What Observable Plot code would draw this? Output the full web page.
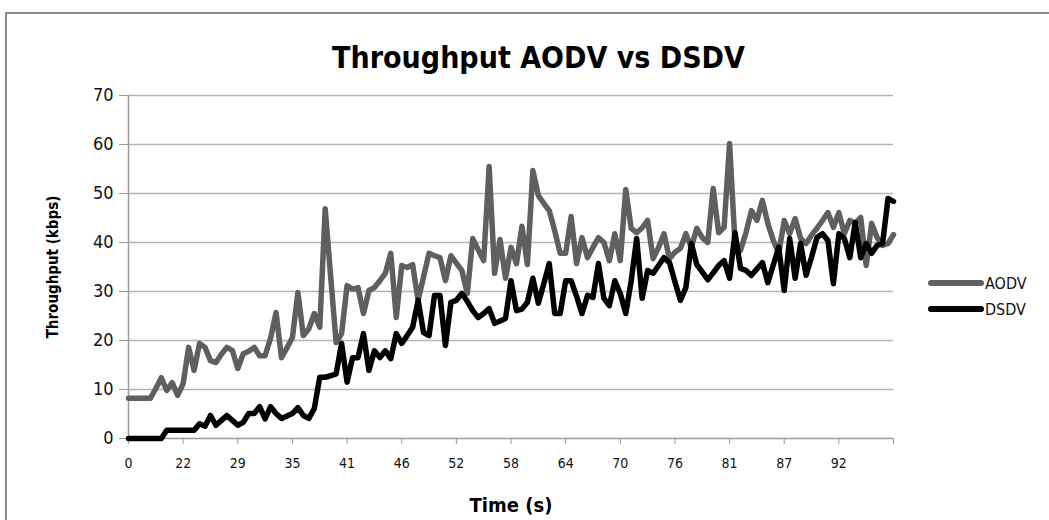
<!DOCTYPE html>
<html>
<head>
<meta charset="utf-8">
<script src="https://cdn.jsdelivr.net/npm/d3@7"></script>
<script src="https://cdn.jsdelivr.net/npm/@observablehq/plot@0.6"></script>
<style>
  html, body { margin: 0; padding: 0; background: #fff; }
  #wrap { position: relative; width: 1049px; height: 520px; overflow: hidden; background: #fff;
          font-family: "Liberation Sans Narrow", "DejaVu Sans Condensed", Roboto, sans-serif; }
  #frame { position: absolute; left: 5px; top: 12px; width: 1100px; height: 600px;
           border-left: 2px solid #8c8c8c; border-top: 2px solid #8c8c8c; }
  #title { position: absolute; top: 0; width: 1049px; height: 80px; text-align: center;
           font-weight: bold; font-size: 30px; line-height: 30px; padding-top: 43px; box-sizing: border-box;
           left: 14px; color: #000; }
  #chart { position: absolute; left: 0; top: 80px; }
  #legend { position: absolute; left: 928px; top: 270px; font-size: 16px; color: #111; }
  .item { display: flex; align-items: center; height: 26px; }
  .swatch { width: 56px; height: 6px; border-radius: 3px; margin-right: 1px; }
</style>
</head>
<body>
<div id="wrap">
  <div id="frame"></div>
  <div id="title">Throughput AODV vs DSDV</div>
  <div id="chart"></div>
  <div id="legend"></div>
</div>
<script>
// Tick labels shown every 10 samples along the category axis
const timeLabels = ["0","22","29","35","41","46","52","58","64","70","76","81","87","92",""];
const seriesNames = ["AODV", "DSDV"];
const seriesColors = ["#5f5f5f", "#000000"];

// Throughput (kbps) per sample
const aodv = [
  8.2, 8.2, 8.2, 8.2, 8.2, 10.2, 12.4, 9.8, 11.4, 8.8,
  11.2, 18.6, 13.9, 19.4, 18.6, 15.9, 15.5, 17.2, 18.6, 18.0,
  14.3, 17.3, 17.8, 18.6, 16.9, 16.9, 20.5, 25.7, 16.5, 18.5,
  20.6, 29.8, 21.0, 22.4, 25.5, 22.7, 46.9, 33.0, 19.6, 21.4,
  31.2, 30.5, 30.8, 25.5, 30.2, 30.8, 32.2, 33.7, 37.8, 24.7,
  35.3, 34.9, 35.5, 28.2, 33.0, 37.8, 37.3, 36.9, 32.2, 37.3,
  35.8, 34.3, 29.6, 40.8, 38.5, 36.3, 55.5, 33.7, 40.6, 32.7,
  39.0, 35.7, 43.3, 35.5, 54.7, 49.6, 48.0, 46.5, 42.4, 37.8,
  37.8, 45.3, 35.7, 41.0, 36.9, 39.0, 41.0, 40.0, 36.3, 41.8,
  36.3, 50.8, 42.9, 42.0, 43.0, 44.5, 36.7, 39.0, 41.8, 36.7,
  38.0, 38.8, 41.8, 39.0, 42.9, 41.0, 40.0, 51.0, 42.0, 43.1,
  60.2, 39.8, 38.4, 42.0, 46.5, 44.5, 48.6, 43.9, 40.4, 37.8,
  44.5, 41.8, 44.9, 40.8, 39.8, 41.5, 42.9, 44.5, 46.1, 43.1,
  46.1, 41.8, 44.5, 43.9, 45.1, 35.3, 43.9, 41.0, 39.4, 39.8,
  41.6
];
const dsdv = [
  0, 0, 0, 0, 0, 0, 0, 1.7, 1.7, 1.7,
  1.7, 1.7, 1.7, 3.0, 2.5, 4.7, 2.7, 3.7, 4.7, 3.7,
  2.7, 3.3, 5.1, 5.1, 6.5, 4.0, 6.5, 5.1, 4.1, 4.6,
  5.1, 6.3, 4.7, 4.1, 6.1, 12.5, 12.5, 12.8, 13.2, 19.4,
  11.5, 16.5, 16.5, 21.4, 13.9, 17.9, 16.5, 17.9, 16.3, 21.4,
  19.4, 21.0, 22.7, 28.2, 21.6, 21.0, 29.2, 29.2, 19.0, 27.8,
  28.2, 29.6, 28.0, 26.1, 24.7, 25.5, 26.5, 23.5, 24.0, 24.5,
  32.2, 26.1, 26.4, 27.8, 32.7, 27.6, 31.6, 35.7, 25.5, 25.5,
  32.2, 32.2, 29.0, 25.5, 29.2, 28.8, 35.7, 28.6, 27.1, 32.2,
  29.6, 25.5, 32.2, 40.8, 28.6, 34.3, 33.7, 35.3, 36.9, 35.9,
  32.0, 28.2, 30.8, 39.8, 35.5, 34.0, 32.4, 33.8, 35.3, 36.3,
  32.7, 42.0, 34.7, 34.3, 33.3, 34.6, 35.9, 31.8, 35.4, 39.0,
  30.2, 40.8, 32.7, 39.8, 33.3, 37.0, 41.0, 41.8, 40.4, 31.6,
  41.8, 40.8, 36.9, 44.1, 36.9, 39.8, 37.8, 39.4, 39.8, 49.0,
  48.4
];

const tickIdx = timeLabels.map((_, i) => i * 10);
const labelOf = new Map(tickIdx.map((t, i) => [t, timeLabels[i]]));

const rows = [];
[aodv, dsdv].forEach((arr, s) => arr.forEach((v, i) => rows.push({i, v, series: seriesNames[s]})));

const chart = Plot.plot({
  width: 1049,
  height: 440,
  marginLeft: 128,
  marginRight: 156,
  marginTop: 15,
  marginBottom: 82,
  style: {fontFamily: '"Liberation Sans Narrow", "DejaVu Sans Condensed", Roboto, sans-serif', color: "#111", background: "transparent"},
  x: {type: "linear", domain: [0, aodv.length - 1]},
  y: {domain: [0, 70]},
  color: {domain: seriesNames, range: seriesColors},
  marks: [
    Plot.gridY({ticks: d3.range(10, 71, 10), stroke: "#b4b4b4", strokeOpacity: 1, strokeWidth: 1.5}),
    Plot.ruleY([0], {stroke: "#9a9a9a", strokeWidth: 1.5}),
    Plot.ruleX([0], {stroke: "#9a9a9a", strokeWidth: 1.5}),
    Plot.axisY({ticks: d3.range(0, 71, 10), tickSize: 9, tickPadding: 6, fontSize: 18, stroke: "#9a9a9a", label: null}),
    Plot.axisX({ticks: tickIdx, tickFormat: d => labelOf.get(d), tickSize: 6, tickPadding: 14, fontSize: 14, stroke: "#9a9a9a", label: null}),
    Plot.lineY(rows, {x: "i", y: "v", z: "series", stroke: "series", strokeWidth: 5.5, strokeLinejoin: "round", strokeLinecap: "round"}),
    Plot.text(["Throughput (kbps)"], {frameAnchor: "left", textAnchor: "middle", rotate: -90, dx: -75, fontSize: 15, fontWeight: "bold", fill: "#000"}),
    Plot.text(["Time (s)"], {frameAnchor: "bottom", textAnchor: "middle", dy: 73, fontSize: 20, fontWeight: "bold", fill: "#000"})
  ]
});
document.getElementById("chart").appendChild(chart);

const legend = document.getElementById("legend");
seriesNames.forEach((name, k) => {
  const item = document.createElement("div");
  item.className = "item";
  const sw = document.createElement("div");
  sw.className = "swatch";
  sw.style.background = seriesColors[k];
  const lab = document.createElement("span");
  lab.textContent = name;
  item.appendChild(sw);
  item.appendChild(lab);
  legend.appendChild(item);
});
</script>
</body>
</html>
